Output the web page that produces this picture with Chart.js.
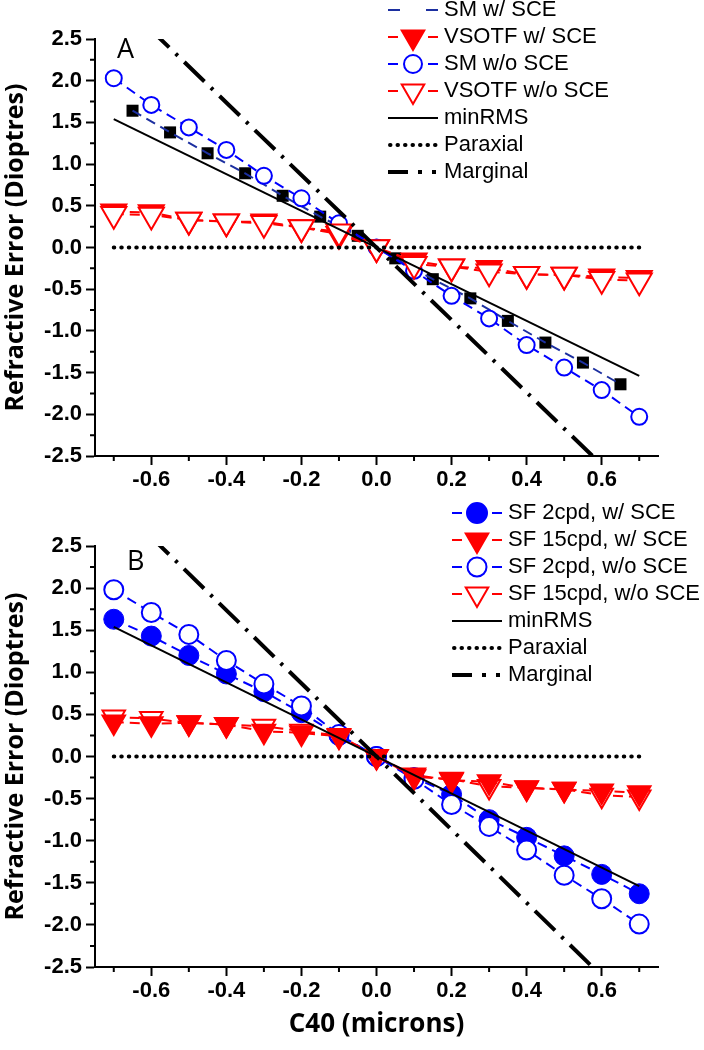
<!DOCTYPE html>
<html>
<head>
<meta charset="utf-8">
<script src="https://cdn.jsdelivr.net/npm/chart.js@4.4.0/dist/chart.umd.min.js"></script>
<style>
  body { margin: 0; background: #fff; }
  #wrap { position: relative; width: 704px; height: 1050px; }
  .panel { position: absolute; left: 0; width: 704px; }
  #pa { top: 0; height: 510px; }
  #pb { top: 495px; height: 555px; }
</style>
</head>
<body>
<div id="wrap">
  <div class="panel" id="pa"><canvas id="chartA" width="704" height="510"></canvas></div>
  <div class="panel" id="pb"><canvas id="chartB" width="704" height="555"></canvas></div>
</div>
<script>
// C40 (microns) sample positions
const xValues = [-0.7, -0.6, -0.5, -0.4, -0.3, -0.2, -0.1, 0.0, 0.1, 0.2, 0.3, 0.4, 0.5, 0.6, 0.7];
const xOffsetValues = [-0.65, -0.55, -0.45, -0.35, -0.25, -0.15, -0.05, 0.05, 0.15, 0.25, 0.35, 0.45, 0.55, 0.65];
const xTickValues = [-0.6, -0.4, -0.2, 0.0, 0.2, 0.4, 0.6];
const yTickValues = [-2.5, -2.0, -1.5, -1.0, -0.5, 0.0, 0.5, 1.0, 1.5, 2.0, 2.5];
const xMinorTicks = [-0.7, -0.5, -0.3, -0.1, 0.1, 0.3, 0.5, 0.7];
const yMinorTicks = [-2.25, -1.75, -1.25, -0.75, -0.25, 0.25, 0.75, 1.25, 1.75, 2.25];

// panel A
const smWithSce = [1.64, 1.38, 1.13, 0.89, 0.62, 0.37, 0.14, -0.13, -0.38, -0.61, -0.88, -1.14, -1.38, -1.64];
const vsotfWithSce = [0.43, 0.42, 0.33, 0.31, 0.31, 0.24, 0.16, 0.0, -0.16, -0.23, -0.25, -0.32, -0.33, -0.35, -0.37];
const smWithoutSce = [2.03, 1.71, 1.44, 1.17, 0.86, 0.59, 0.29, 0.0, -0.28, -0.58, -0.85, -1.17, -1.44, -1.71, -2.03];
const vsotfWithoutSce = [0.40, 0.39, 0.33, 0.31, 0.29, 0.24, 0.19, 0.0, -0.20, -0.23, -0.29, -0.32, -0.33, -0.38, -0.40];

// panel B
const sf2WithSce = [1.63, 1.43, 1.20, 0.98, 0.77, 0.52, 0.25, 0.0, -0.25, -0.45, -0.75, -0.96, -1.18, -1.40, -1.63];
const sf15WithSce = [0.41, 0.39, 0.40, 0.38, 0.30, 0.28, 0.24, 0.0, -0.22, -0.28, -0.30, -0.375, -0.39, -0.41, -0.43];
const sf2WithoutSce = [1.98, 1.71, 1.45, 1.14, 0.86, 0.60, 0.26, 0.0, -0.27, -0.57, -0.83, -1.11, -1.41, -1.69, -1.99];
const sf15WithoutSce = [0.47, 0.45, 0.40, 0.38, 0.36, 0.30, 0.25, 0.0, -0.24, -0.27, -0.355, -0.37, -0.39, -0.46, -0.48];

// reference lines (both panels)
const lineX = [-0.7, 0.7];
const minRms = [1.54, -1.54];
const paraxial = [0.0, 0.0];
const marginal = [3.04, -3.04];

const RED = '#ff0000';
const BLUE = '#0000ff';
const NAVY = '#1c2fa0';
const tickFont = { family: '"Liberation Sans", Arial, sans-serif', size: 22, weight: 'bold' };
const titleFont = { family: '"Open Sans", sans-serif', size: 25, weight: 'bold' };

const pts = (xs, ys) => xs.map((x, i) => ({ x: x, y: ys[i] }));

function markerSeries(label, xs, ys, o) {
  return {
    label: label,
    data: pts(xs, ys),
    order: o.order,
    showLine: o.showLine !== false,
    borderColor: o.line,
    borderWidth: 2,
    borderDash: [10, 6],
    pointStyle: o.style,
    pointRotation: o.rotation || 0,
    pointRadius: o.radius,
    pointBackgroundColor: o.fill,
    pointBorderColor: o.edge,
    pointBorderWidth: o.edgeWidth === undefined ? 2 : o.edgeWidth,
    tension: 0,
    fill: false
  };
}

function refLines() {
  return [
    { label: 'minRMS', data: pts(lineX, minRms), order: 3, borderColor: '#000', borderWidth: 2, pointRadius: 0 },
    { label: 'Paraxial', data: pts(lineX, paraxial), order: 2, borderColor: '#000', borderWidth: 4,
      borderDash: [0.5, 7], borderCapStyle: 'round', pointRadius: 0 },
    { label: 'Marginal', data: pts(lineX, marginal), order: 1, borderColor: '#000', borderWidth: 4,
      borderDash: [28, 9, 3, 9], pointRadius: 0, clip: 0 }
  ];
}

function scalesFor(xHeight, withXTitle) {
  return {
    x: {
      type: 'linear', min: -0.75, max: 0.75,
      afterBuildTicks: ax => { ax.ticks = xTickValues.map(v => ({ value: v })); },
      afterFit: ax => { ax.height = xHeight; },
      border: { display: true, color: '#000', width: 2 },
      grid: { drawOnChartArea: false, drawTicks: true, tickLength: 9, tickWidth: 2, tickColor: '#000' },
      ticks: { color: '#000', font: tickFont, padding: 2, autoSkip: false, maxRotation: 0,
        callback: v => Number(v).toFixed(1) },
      title: {
        display: withXTitle, text: 'C40 (microns)', color: '#000',
        font: { family: '"Open Sans", sans-serif', size: 26, weight: 'bold' },
        padding: { top: 0, bottom: 10 }
      }
    },
    y: {
      type: 'linear', min: -2.5, max: 2.5,
      afterBuildTicks: ax => { ax.ticks = yTickValues.map(v => ({ value: v })); },
      afterFit: ax => { ax.width = 95; },
      border: { display: true, color: '#000', width: 2 },
      grid: { drawOnChartArea: false, drawTicks: true, tickLength: 9, tickWidth: 2, tickColor: '#000' },
      ticks: { color: '#000', font: tickFont, padding: 4, autoSkip: false,
        callback: v => Number(v).toFixed(1) },
      title: {
        display: true, text: 'Refractive Error (Dioptres)', color: '#000',
        font: titleFont, padding: { top: 1, bottom: 0 }
      }
    }
  };
}

function drawMarker(ctx, style, x, y, r, fill, edge, lw) {
  ctx.beginPath();
  if (style === 'triangle') {
    ctx.moveTo(x, y + r);
    ctx.lineTo(x - 0.866 * r, y - 0.5 * r);
    ctx.lineTo(x + 0.866 * r, y - 0.5 * r);
    ctx.closePath();
  } else {
    ctx.arc(x, y, r, 0, Math.PI * 2);
  }
  ctx.fillStyle = fill;
  ctx.fill();
  if (lw > 0) { ctx.lineWidth = lw; ctx.strokeStyle = edge; ctx.stroke(); }
}

// minor ticks, panel letter and the in-plot legend
function extras(cfg) {
  return {
    id: 'extras' + cfg.letter,
    afterDraw(chart) {
      const ctx = chart.ctx, xs = chart.scales.x, ys = chart.scales.y, a = chart.chartArea;
      ctx.save();
      ctx.strokeStyle = '#000';
      ctx.lineWidth = 2;
      ctx.setLineDash([]);
      ctx.beginPath();
      xMinorTicks.forEach(v => {
        const px = xs.getPixelForValue(v);
        ctx.moveTo(px, a.bottom); ctx.lineTo(px, a.bottom + 5);
      });
      yMinorTicks.forEach(v => {
        const py = ys.getPixelForValue(v);
        ctx.moveTo(a.left, py); ctx.lineTo(a.left - 5, py);
      });
      ctx.stroke();

      ctx.fillStyle = '#000';
      ctx.font = '27px "Open Sans", sans-serif';
      ctx.textBaseline = 'alphabetic';
      ctx.fillText(cfg.letter, a.left + cfg.letterDx, a.top + cfg.letterDy);

      const x0 = cfg.legendX, x1 = x0 + 50, cx = x0 + 25;
      ctx.font = '22px "Liberation Sans", Arial, sans-serif';
      ctx.textBaseline = 'middle';
      cfg.items.forEach((it, i) => {
        const y = cfg.legendY + i * 27;
        ctx.setLineDash([]);
        ctx.lineCap = 'butt';
        if (it.kind === 'dash' || it.kind === 'marker') {
          const seg = it.kind === 'dash' ? 12 : 10;
          ctx.strokeStyle = it.color; ctx.lineWidth = 2;
          ctx.beginPath();
          ctx.moveTo(x0, y); ctx.lineTo(x0 + seg, y);
          ctx.moveTo(x1 - seg, y); ctx.lineTo(x1, y);
          ctx.stroke();
          if (it.kind === 'marker') drawMarker(ctx, it.style, cx, y, it.radius, it.fill, it.color, 2);
        } else if (it.kind === 'solid') {
          ctx.strokeStyle = '#000'; ctx.lineWidth = 2;
          ctx.beginPath(); ctx.moveTo(x0, y); ctx.lineTo(x1, y); ctx.stroke();
        } else if (it.kind === 'dots') {
          ctx.strokeStyle = '#000'; ctx.lineWidth = 4; ctx.lineCap = 'round';
          ctx.setLineDash([0.5, 7]);
          ctx.beginPath(); ctx.moveTo(x0 + 2, y); ctx.lineTo(x1 - 2, y); ctx.stroke();
        } else if (it.kind === 'dashdot') {
          ctx.strokeStyle = '#000'; ctx.lineWidth = 4;
          ctx.beginPath();
          ctx.moveTo(x0, y); ctx.lineTo(x0 + 20, y);
          ctx.moveTo(x0 + 30, y); ctx.lineTo(x0 + 34, y);
          ctx.moveTo(x0 + 44, y); ctx.lineTo(x0 + 48, y);
          ctx.stroke();
        }
        ctx.fillStyle = '#000';
        ctx.fillText(it.text, x1 + 6, y);
      });
      ctx.restore();
    }
  };
}

const baseOptions = (padTop, xHeight, withXTitle) => ({
  responsive: false,
  animation: false,
  events: [],
  layout: { padding: { top: padTop, right: 46, left: 0, bottom: 0 } },
  plugins: { legend: { display: false }, tooltip: { enabled: false } },
  scales: scalesFor(xHeight, withXTitle)
});

new Chart(document.getElementById('chartA'), {
  type: 'line',
  data: {
    datasets: [
      markerSeries('SM w/ SCE', xOffsetValues, smWithSce,
        { order: 10, showLine: false, style: 'rect', radius: 8.5, fill: '#000', edge: '#000', edgeWidth: 0 }),
      markerSeries('SM w/ SCE line', xOffsetValues, smWithSce,
        { order: 9, line: NAVY, style: 'circle', radius: 0, fill: NAVY, edge: NAVY }),
      markerSeries('VSOTF w/ SCE', xValues, vsotfWithSce,
        { order: 8, line: RED, style: 'triangle', rotation: 180, radius: 14.5, fill: RED, edge: RED }),
      markerSeries('SM w/o SCE', xValues, smWithoutSce,
        { order: 7, line: BLUE, style: 'circle', radius: 8, fill: '#fff', edge: BLUE }),
      markerSeries('VSOTF w/o SCE', xValues, vsotfWithoutSce,
        { order: 6, line: RED, style: 'triangle', rotation: 180, radius: 14.5, fill: '#fff', edge: RED })
    ].concat(refLines())
  },
  options: baseOptions(39, 54, false),
  plugins: [extras({
    letter: 'A', letterDx: 22, letterDy: 19, legendX: 388, legendY: 10,
    items: [
      { text: 'SM w/ SCE', kind: 'dash', color: NAVY },
      { text: 'VSOTF w/ SCE', kind: 'marker', style: 'triangle', radius: 13, color: RED, fill: RED },
      { text: 'SM w/o SCE', kind: 'marker', style: 'circle', radius: 9, color: BLUE, fill: '#fff' },
      { text: 'VSOTF w/o SCE', kind: 'marker', style: 'triangle', radius: 13, color: RED, fill: '#fff' },
      { text: 'minRMS', kind: 'solid' },
      { text: 'Paraxial', kind: 'dots' },
      { text: 'Marginal', kind: 'dashdot' }
    ]
  })]
});

new Chart(document.getElementById('chartB'), {
  type: 'line',
  data: {
    datasets: [
      markerSeries('SF 2cpd, w/ SCE', xValues, sf2WithSce,
        { order: 10, line: BLUE, style: 'circle', radius: 10, fill: BLUE, edge: BLUE, edgeWidth: 1 }),
      markerSeries('SF 2cpd, w/o SCE', xValues, sf2WithoutSce,
        { order: 9, line: BLUE, style: 'circle', radius: 9.5, fill: '#fff', edge: BLUE }),
      markerSeries('SF 15cpd, w/o SCE', xValues, sf15WithoutSce,
        { order: 8, line: RED, style: 'triangle', rotation: 180, radius: 13, fill: '#fff', edge: RED }),
      markerSeries('SF 15cpd, w/ SCE', xValues, sf15WithSce,
        { order: 7, line: RED, style: 'triangle', rotation: 180, radius: 13, fill: RED, edge: RED })
    ].concat(refLines())
  },
  options: baseOptions(51, 83, true),
  plugins: [extras({
    letter: 'B', letterDx: 32, letterDy: 24, legendX: 452, legendY: 18,
    items: [
      { text: 'SF 2cpd, w/ SCE', kind: 'marker', style: 'circle', radius: 10, color: BLUE, fill: BLUE },
      { text: 'SF 15cpd, w/ SCE', kind: 'marker', style: 'triangle', radius: 13, color: RED, fill: RED },
      { text: 'SF 2cpd, w/o SCE', kind: 'marker', style: 'circle', radius: 9.5, color: BLUE, fill: '#fff' },
      { text: 'SF 15cpd, w/o SCE', kind: 'marker', style: 'triangle', radius: 13, color: RED, fill: '#fff' },
      { text: 'minRMS', kind: 'solid' },
      { text: 'Paraxial', kind: 'dots' },
      { text: 'Marginal', kind: 'dashdot' }
    ]
  })]
});
</script>
</body>
</html>
